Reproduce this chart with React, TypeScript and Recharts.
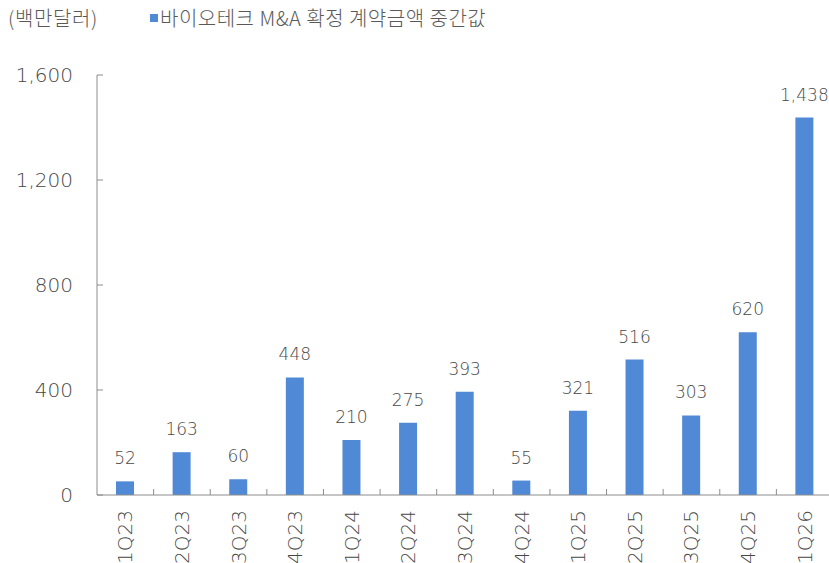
import { BarChart, Bar, XAxis, YAxis, LabelList } from "recharts";

const quarters = ["1Q23", "2Q23", "3Q23", "4Q23", "1Q24", "2Q24", "3Q24", "4Q24", "1Q25", "2Q25", "3Q25", "4Q25", "1Q26"];
const medianValues = [52, 163, 60, 448, 210, 275, 393, 55, 321, 516, 303, 620, 1438];
const yTicks = [0, 400, 800, 1200, 1600];
const seriesName = "바이오테크 M&A 확정 계약금액 중간값";
const unitLabel = "(백만달러)";

const chartData = quarters.map((q, i) => ({ name: q, value: medianValues[i] }));

const KFONT = "'Noto Sans CJK KR', 'Noto Sans', sans-serif";
const NFONT = "'DejaVu Sans', sans-serif";
const TEXT = "#595959";
const NUM = "#474747";
const AXIS = "#8c8c8c";
const BAR = "#5089d5";

const W = 840;
const H = 563;
const M = { top: 75, right: 7, bottom: 0, left: 0 };
const Y_W = 97;
const X_H = 68;
const BAND = (W - M.left - M.right - Y_W) / quarters.length;

const fmt = (v: number) => v.toLocaleString("en-US");

function YTick(props: any) {
  const { x, y, payload } = props;
  return (
    <g>
      <line x1={x + 24} x2={x + 30} y1={y} y2={y} stroke={AXIS} />
      <text x={x} y={y} textAnchor="end" dominantBaseline="central" fill={NUM} fontSize={20} fontWeight={300} fontFamily={NFONT}>
        {fmt(payload.value)}
      </text>
    </g>
  );
}

function XTick(props: any) {
  const { x, y, payload, index } = props;
  const axisY = y - 10;
  const left = x - BAND / 2;
  return (
    <g>
      {index > 0 && <line x1={left} x2={left} y1={axisY} y2={axisY - 6} stroke={AXIS} />}
      {index === quarters.length - 1 && (
        <line x1={x + BAND / 2} x2={x + BAND / 2} y1={axisY} y2={axisY - 6} stroke={AXIS} />
      )}
      <text
        x={x}
        y={y + 5}
        transform={`rotate(-90 ${x} ${y + 5})`}
        textAnchor="end"
        dominantBaseline="central"
        fill={NUM}
        fontSize={20}
        fontWeight={300}
        fontFamily={NFONT}
      >
        {payload.value}
      </text>
    </g>
  );
}

export default function App() {
  return (
    <div style={{ position: "absolute", left: 0, top: 0, width: 829, height: H, overflow: "hidden", background: "#fff" }}>
      <div style={{ position: "absolute", left: 8, top: 3, fontFamily: KFONT, fontSize: 20, fontWeight: 300, letterSpacing: 0.6, color: TEXT }}>
        {unitLabel}
      </div>
      <div
        style={{
          position: "absolute",
          left: 150,
          top: 3,
          display: "flex",
          alignItems: "center",
          fontFamily: KFONT,
          fontSize: 20,
          fontWeight: 300,
          letterSpacing: 0.5,
          color: TEXT,
        }}
      >
        <span style={{ display: "inline-block", width: 8, height: 8, background: BAR, marginRight: 2 }} />
        <span>{seriesName}</span>
      </div>
      <BarChart width={W} height={H} data={chartData} margin={M}>
        <YAxis
          width={Y_W}
          domain={[0, 1600]}
          ticks={yTicks}
          interval={0}
          tickSize={0}
          tickMargin={24}
          tick={<YTick />}
          axisLine={{ stroke: AXIS }}
          tickLine={false}
        />
        <XAxis
          dataKey="name"
          height={X_H}
          interval={0}
          tickSize={0}
          tickMargin={10}
          tick={<XTick />}
          axisLine={{ stroke: AXIS }}
          tickLine={false}
        />
        <Bar dataKey="value" name={seriesName} fill={BAR} barSize={18} isAnimationActive={false}>
          <LabelList
            dataKey="value"
            position="top"
            offset={17}
            formatter={(v: any) => fmt(Number(v))}
            style={{ fill: NUM, fontSize: 17, fontWeight: 300, fontFamily: NFONT }}
          />
        </Bar>
      </BarChart>
    </div>
  );
}
